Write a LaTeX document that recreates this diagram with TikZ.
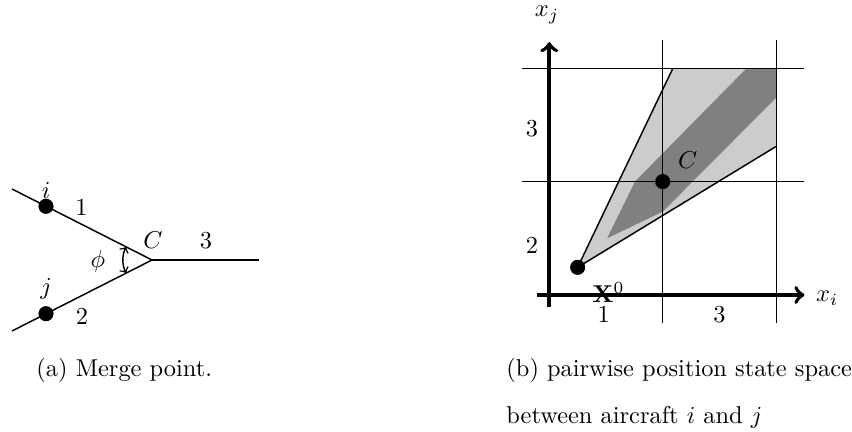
\documentclass[tikz,border=0pt]{standalone}
\usepackage{amsmath}
\usepackage{amssymb}
\usepackage{tikz}
\usepackage{xcolor}
\usetikzlibrary{arrows,positioning,calc}

\begin{document}
\begin{tikzpicture}[
    x=0.41pt, y=0.41pt,
    lane/.style={line width=0.6pt},
    dot/.style={circle, fill=black, inner sep=0pt, minimum size=6.2pt},
    lbl/.style={inner sep=0pt},
    axis/.style={line width=1.6pt, ->},
    grid/.style={line width=0.5pt}
]
    \useasboundingbox (0,0) rectangle (852,432);

    % (a) merge point
    \coordinate (C) at (152,172);
    \coordinate (inI) at (12,243);
    \coordinate (inJ) at (12,101);
    \coordinate (out) at (259,172);
    \draw[lane] (inI) -- (C);
    \draw[lane] (inJ) -- (C);
    \draw[lane] (C) -- (out);
    \node[dot] (acI) at (46,225.7) {};
    \node[dot] (acJ) at (46,118.3) {};
    \node[lbl] at (46,242) {$i$};
    \node[lbl] at (46,143) {$j$};
    \node[lbl] at (81.5,224.5) {1};
    \node[lbl] at (82,115.5) {2};
    \node[lbl] at (206,191) {3};
    \node[lbl] (lblC) at (153,192) {$C$};
    \node[lbl] (phi) at (98,170.5) {$\phi$};
    \draw[lane, <->] ([shift={(153:29)}]C) arc[start angle=153, end angle=207, radius=29];

    \node[anchor=base west, inner sep=0pt] (capA) at (36,55) {(a) Merge point.};

    % (b) state space
    \begin{scope}[shift={(549.3,137)}, x=46.5pt, y=46.5pt]
        \fill[black!20] (0.25,0.244) -- (1.09,2) -- (2,2) -- (2,1.31) -- cycle;
        \fill[black!50] (0.51,0.5) -- (0.755,1) -- (1.74,2) -- (2,2) -- (2,1.74) -- (1,0.735) -- cycle;
        \node[dot] (X0) at (0.25,0.244) {};
        \coordinate (coneUp) at (1.09,2);
        \coordinate (coneLow) at (2,1.31);
        \draw[lane] (X0.center) -- (coneUp);
        \draw[lane] (X0.center) -- (coneLow);
        \foreach \g in {1,2} {
            \draw[grid] (\g,-0.25) -- (\g,2.25);
            \draw[grid] (-0.24,\g) -- (2.25,\g);
        }
        \coordinate (oX) at (-0.108,0);
        \coordinate (eX) at (2.25,0);
        \coordinate (oY) at (0,-0.106);
        \coordinate (eY) at (0,2.23);
        \draw[axis] (oX) -- (eX);
        \draw[axis] (oY) -- (eY);
        \node[dot] (Cs) at (1,1) {};
        \node[lbl] at (1.22,1.19) {$C$};
        \node[lbl] at (-0.02,2.47) {$x_j$};
        \node[lbl] at (2.45,-0.026) {$x_i$};
        \node[lbl] at (-0.152,1.47) {3};
        \node[lbl] at (-0.152,0.44) {2};
        \node[lbl] at (0.48,-0.167) {1};
        \node[lbl] at (1.5,-0.176) {3};
        \node[anchor=base west, inner sep=0pt] at (0.376,-0.062) {$\mathbf{X}^0$};
    \end{scope}

    \node[anchor=base west, inner sep=0pt] (capB) at (506,55) {(b) pairwise position state space};
    \node[anchor=base west, inner sep=0pt] (capB2) at (506,8) {between aircraft $i$ and $j$};
\end{tikzpicture}
\end{document}
